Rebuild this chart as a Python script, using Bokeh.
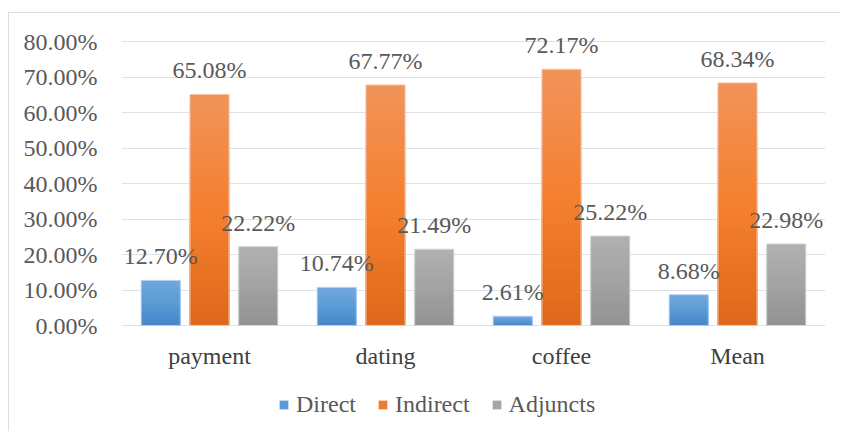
from bokeh.plotting import figure
from bokeh.models import (ColumnDataSource, FactorRange, LabelSet, Legend, LegendItem,
                          PrintfTickFormatter, FixedTicker, Range1d)
from bokeh.transform import dodge
from bokeh.embed import file_html
from bokeh.resources import INLINE

categories = ["payment", "dating", "coffee", "Mean"]
series = ["Direct", "Indirect", "Adjuncts"]
direct = [12.70, 10.74, 2.61, 8.68]
indirect = [65.08, 67.77, 72.17, 68.34]
adjuncts = [22.22, 21.49, 25.22, 22.98]
y_ticks = [0, 10, 20, 30, 40, 50, 60, 70, 80]

values = {"Direct": direct, "Indirect": indirect, "Adjuncts": adjuncts}
offsets = {"Direct": -0.277, "Indirect": 0.0, "Adjuncts": 0.277}
# gradient stops: (bottom, middle, top)
grads = {
    "Direct": ("#4586CA", "#5B9BD5", "#72A7DD"),
    "Indirect": ("#E0671B", "#F4802F", "#F1935A"),
    "Adjuncts": ("#929292", "#A3A3A3", "#B1B1B1"),
}
edges = {"Direct": "#B5D0EE", "Indirect": "#F8C3A2", "Adjuncts": "#D6D6D6"}
legend_colors = {"Direct": "#5B9BD5", "Indirect": "#ED7D31", "Adjuncts": "#A5A5A5"}

FONT = "Liberation Serif"
FS = "24px"


def hex2rgb(h):
    h = h.lstrip("#")
    return tuple(int(h[i:i + 2], 16) for i in (0, 2, 4))


def mix(c1, c2, t):
    a, b = hex2rgb(c1), hex2rgb(c2)
    return "#%02x%02x%02x" % tuple(int(round(a[i] + (b[i] - a[i]) * t)) for i in range(3))


def grad_color(stops, t):
    lo, mid, hi = stops
    if t < 0.5:
        return mix(lo, mid, t / 0.5)
    return mix(mid, hi, (t - 0.5) / 0.5)


p = figure(x_range=FactorRange(*categories), y_range=Range1d(-30.14, 87.89),
           width=832, height=419, output_backend="svg", toolbar_location=None,
           min_border_left=112, min_border_right=16, min_border_top=0, min_border_bottom=0)
p.styles = {"margin-left": "8px", "margin-top": "12px",
            "border-top": "1px solid #D9DEE5", "border-left": "1px solid #D9DEE5"}

p.outline_line_color = None
p.background_fill_color = "white"
p.border_fill_color = "white"

N = 40
for s in series:
    vals = values[s]
    xs, tops, cols = [], [], []
    for k in range(N):  # tallest (lightest) first, shorter darker ones on top
        for c, v in zip(categories, vals):
            xs.append(c)
            tops.append(v * (N - k) / N)
            cols.append(grad_color(grads[s], (N - k - 0.5) / N))
    src = ColumnDataSource(dict(x=xs, top=tops, color=cols))
    p.vbar(x=dodge("x", offsets[s], range=p.x_range), bottom=0, top="top", width=0.222,
           fill_color="color", line_color=None, source=src)
    osrc = ColumnDataSource(dict(x=categories, top=vals))
    p.vbar(x=dodge("x", offsets[s], range=p.x_range), top="top", width=0.222,
           fill_color=None, line_color=edges[s], line_width=1, source=osrc)

for s in series:
    vals = values[s]
    lsrc = ColumnDataSource(dict(x=categories, y=vals, t=["%.2f%%" % v for v in vals]))
    p.add_layout(LabelSet(x=dodge("x", offsets[s], range=p.x_range), y="y", text="t",
                          source=lsrc, text_align="center", text_baseline="alphabetic",
                          y_offset=16, text_font=FONT, text_font_size=FS,
                          text_color="#595959"))

# category labels (drawn below the baseline)
csrc = ColumnDataSource(dict(x=categories, y=[0] * len(categories), t=categories))
p.add_layout(LabelSet(x="x", y="y", text="t", source=csrc, text_align="center",
                      text_baseline="alphabetic", y_offset=-38, text_font=FONT,
                      text_font_size=FS, text_color="#404040"))

# axes
p.xaxis.visible = False
p.yaxis.ticker = FixedTicker(ticks=y_ticks)
p.yaxis.formatter = PrintfTickFormatter(format="%.2f%%")
p.yaxis.axis_line_color = None
p.yaxis.major_tick_line_color = None
p.yaxis.minor_tick_line_color = None
p.yaxis.major_label_standoff = 18
p.yaxis.major_label_text_font = FONT
p.yaxis.major_label_text_font_size = FS
p.yaxis.major_label_text_color = "#595959"

p.xgrid.grid_line_color = None
p.ygrid.ticker = FixedTicker(ticks=y_ticks)
p.ygrid.grid_line_color = "#DDE2E8"
p.ygrid.grid_line_width = 1

# legend
items = []
for s in series:
    r = p.vbar(x=[categories[0]], top=[0], width=0.0, fill_color=legend_colors[s], line_color=None)
    items.append(LegendItem(label=s, renderers=[r]))
legend = Legend(items=items, orientation="horizontal", location=(157, 14),
                glyph_width=11, glyph_height=11, label_standoff=7, spacing=21,
                padding=0, margin=0, border_line_color=None, background_fill_alpha=0,
                label_text_font=FONT, label_text_font_size=FS, label_text_color="#595959")
p.add_layout(legend, "center")

open("out.html", "w").write(file_html(p, INLINE))
